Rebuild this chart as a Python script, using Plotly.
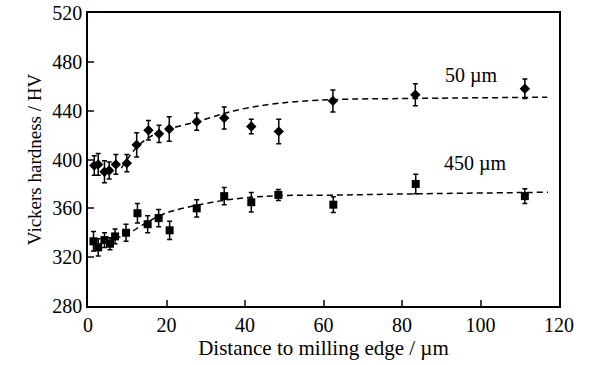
import plotly.graph_objects as go

# 50 um series (diamonds)
x50 = [1.6, 2.6, 4.2, 5.4, 7.1, 9.9, 12.4, 15.4, 18.1, 20.7, 27.7, 34.7, 41.6, 48.6, 62.4, 83.4, 111.3]
y50 = [395, 396, 390, 391, 396, 397, 412, 424, 421, 425, 431, 434, 427, 423, 448, 453, 458]
e50 = [8, 9, 9, 7, 8, 7, 10, 8, 7, 10, 7, 9, 6, 10, 9, 9, 8]

# 450 um series (squares)
x450 = [1.4, 2.6, 4.2, 5.6, 6.9, 9.7, 12.6, 15.2, 18.0, 20.8, 27.7, 34.7, 41.6, 48.5, 62.5, 83.5, 111.3]
y450 = [333, 328, 334, 331, 337, 340, 356, 347, 352, 342, 360, 370, 365, 371, 363, 380, 370]
e450 = [8, 7, 6, 5, 6, 7, 8, 7, 7, 7.5, 7, 7, 8, 4.5, 6.5, 8, 6]

# fitted curves
fx50 = [8.5, 12.4, 16, 20.7, 27.7, 34, 38.7, 48.5, 62, 83, 117]
fy50 = [393, 410, 419, 425, 431, 437, 441, 446, 449, 450, 451]
fx450 = [2, 5, 7.6, 10.7, 13.7, 18.3, 21.7, 27.7, 34.5, 41.3, 48.9, 61.7, 82, 117.2]
fy450 = [330, 333, 336, 340, 346, 354, 358, 362.5, 366.5, 369, 370.4, 370.8, 371.8, 373.2]

labels = ["50 µm", "450 µm"]
label_x = [97.8, 98.6]
label_y = [469, 397]

xticks = [0, 20, 40, 60, 80, 100, 120]
yticks = [280, 320, 360, 400, 440, 480, 520]

FONT = "'Liberation Serif', 'Times New Roman', Times, serif"

fig = go.Figure()
fig.add_trace(go.Scatter(x=fx50, y=fy50, mode="lines", line=dict(color="black", width=1.5, dash="6px,4px", shape="spline"), hoverinfo="skip"))
fig.add_trace(go.Scatter(x=fx450, y=fy450, mode="lines", line=dict(color="black", width=1.5, dash="6px,4px", shape="spline"), hoverinfo="skip"))
fig.add_trace(go.Scatter(x=x50, y=y50, mode="markers",
                         marker=dict(symbol="diamond", size=8, color="black"),
                         error_y=dict(type="data", array=e50, color="black", thickness=1.5, width=2.5)))
fig.add_trace(go.Scatter(x=x450, y=y450, mode="markers",
                         marker=dict(symbol="square", size=8, color="black"),
                         error_y=dict(type="data", array=e450, color="black", thickness=1.5, width=2.5)))

for t, ax, ay in zip(labels, label_x, label_y):
    fig.add_annotation(x=ax, y=ay, text=t, showarrow=False, font=dict(family=FONT, size=20, color="black"))

fig.update_layout(
    width=589, height=365,
    margin=dict(l=88, r=30, t=13, b=59),
    paper_bgcolor="white", plot_bgcolor="white",
    showlegend=False,
    font=dict(family=FONT, color="black", size=18),
)
fig.update_xaxes(range=[0, 120], tickvals=xticks, ticks="inside", ticklen=6, tickwidth=1.5,
                 showline=True, linecolor="black", linewidth=1.5, mirror=True, showgrid=False, zeroline=False,
                 automargin=False,
                 tickfont=dict(family=FONT, size=20),
                 title=dict(text="Distance to milling edge / µm", font=dict(family=FONT, size=21), standoff=3))
fig.update_yaxes(range=[280, 520], tickvals=yticks, ticks="inside", ticklen=6, tickwidth=1.5,
                 showline=True, linecolor="black", linewidth=1.5, mirror=True, showgrid=False, zeroline=False,
                 automargin=False,
                 tickfont=dict(family=FONT, size=20),
                 title=dict(text="Vickers hardness / HV", font=dict(family=FONT, size=19), standoff=6))

# remove the browser's default 8px body margin so the figure sits at the page origin
fig.write_html("out.html", config={"displayModeBar": False},
               post_script="document.body.style.margin='0';document.body.style.overflow='hidden';")
